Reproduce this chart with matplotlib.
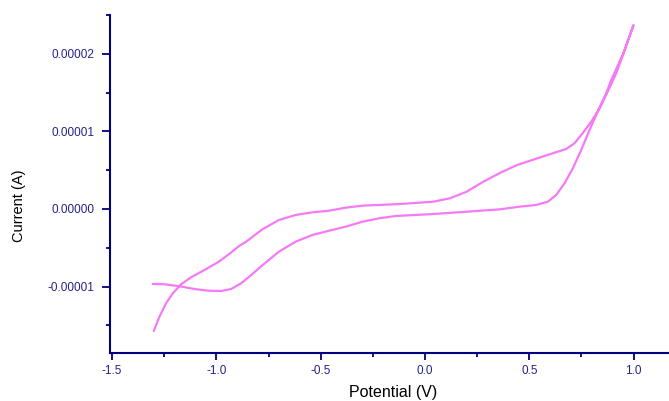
import matplotlib
matplotlib.use("Agg")
import matplotlib.pyplot as plt
from matplotlib.ticker import MultipleLocator, FuncFormatter

# Forward scan (from -1.3 V to +1.0 V)
fwd_potential = [-1.305, -1.249, -1.177, -1.105, -1.041, -0.977, -0.929, -0.881,
                 -0.833, -0.778, -0.70, -0.62, -0.54, -0.46, -0.38, -0.30, -0.22,
                 -0.14, 0.02, 0.20, 0.36, 0.453, 0.533, 0.589, 0.629, 0.669,
                 0.709, 0.749, 0.789, 0.828, 0.869, 0.893, 0.95, 1.00]
fwd_current = [-0.966e-5, -0.970e-5, -0.996e-5, -1.031e-5, -1.053e-5, -1.057e-5,
               -1.031e-5, -0.957e-5, -0.851e-5, -0.722e-5, -0.550e-5, -0.421e-5,
               -0.335e-5, -0.280e-5, -0.228e-5, -0.164e-5, -0.120e-5, -0.090e-5,
               -0.068e-5, -0.035e-5, -0.004e-5, 0.030e-5, 0.052e-5, 0.094e-5,
               0.180e-5, 0.331e-5, 0.524e-5, 0.760e-5, 1.018e-5, 1.254e-5,
               1.491e-5, 1.662e-5, 2.00e-5, 2.37e-5]

# Reverse scan (from +1.0 V back to -1.3 V)
rev_potential = [1.00, 0.95, 0.917, 0.876, 0.837, 0.797, 0.756, 0.717, 0.677,
                 0.613, 0.533, 0.44, 0.36, 0.28, 0.20, 0.12, 0.04, -0.12, -0.30,
                 -0.38, -0.46, -0.54, -0.62, -0.70, -0.78, -0.857, -0.889, -0.945,
                 -0.993, -1.057, -1.121, -1.169, -1.209, -1.241, -1.273, -1.300]
rev_current = [2.37e-5, 1.99e-5, 1.75e-5, 1.512e-5, 1.298e-5, 1.125e-5, 0.976e-5,
               0.847e-5, 0.773e-5, 0.718e-5, 0.648e-5, 0.565e-5, 0.465e-5,
               0.352e-5, 0.223e-5, 0.138e-5, 0.094e-5, 0.064e-5, 0.043e-5,
               0.017e-5, -0.022e-5, -0.043e-5, -0.077e-5, -0.142e-5, -0.262e-5,
               -0.421e-5, -0.473e-5, -0.593e-5, -0.687e-5, -0.786e-5, -0.880e-5,
               -0.970e-5, -1.086e-5, -1.215e-5, -1.388e-5, -1.572e-5]

potential = fwd_potential + rev_potential[1:]
current = fwd_current + rev_current[1:]

x_label = "Potential (V)"
y_label = "Current (A)"

navy = "#000080"
tick_col = "#22228c"
line_col = "#f57af5"

plt.rcParams['font.family'] = ['Liberation Sans', 'DejaVu Sans']

fig = plt.figure(figsize=(6.69, 4.01), dpi=100)
ax = fig.add_axes([110 / 669, 48 / 401, 559 / 669, (353 - 14.7) / 401])

ax.plot(potential, current, color=line_col, lw=1.6, solid_joinstyle='round',
        solid_capstyle='round')

ax.set_xlim(-1.51, 1.17)
ax.set_ylim(-1.856e-5, 2.504e-5)

for s in ['top', 'right']:
    ax.spines[s].set_visible(False)
for s in ['left', 'bottom']:
    ax.spines[s].set_color(navy)
    ax.spines[s].set_linewidth(1.5)

ax.xaxis.set_major_locator(MultipleLocator(0.5))
ax.xaxis.set_minor_locator(MultipleLocator(0.25))
ax.yaxis.set_major_locator(MultipleLocator(1e-5))
ax.yaxis.set_minor_locator(MultipleLocator(0.5e-5))

ax.xaxis.set_major_formatter(FuncFormatter(lambda v, p: f"{v:.1f}"))
ax.yaxis.set_major_formatter(FuncFormatter(lambda v, p: f"{v:.5f}"))

ax.tick_params(axis='both', which='both', direction='out', color=navy,
               labelcolor=tick_col, labelsize=8.5, width=1.3)
ax.tick_params(axis='y', which='major', length=6, pad=5)
ax.tick_params(axis='y', which='minor', length=3)
ax.tick_params(axis='x', which='major', length=5, pad=4)
ax.tick_params(axis='x', which='minor', length=3)

ax.set_xlabel(x_label, fontsize=11.5, color='black')
ax.set_ylabel(y_label, fontsize=10.5, color='black')
ax.xaxis.set_label_coords((393 - 110) / 559, (353 - 393) / 338.3)
ax.yaxis.set_label_coords((19 - 110) / 559, (353 - 206) / 338.3)
ax.xaxis.label.set_va('center')
ax.yaxis.label.set_va('center')

fig.savefig("out.png", dpi=100)
